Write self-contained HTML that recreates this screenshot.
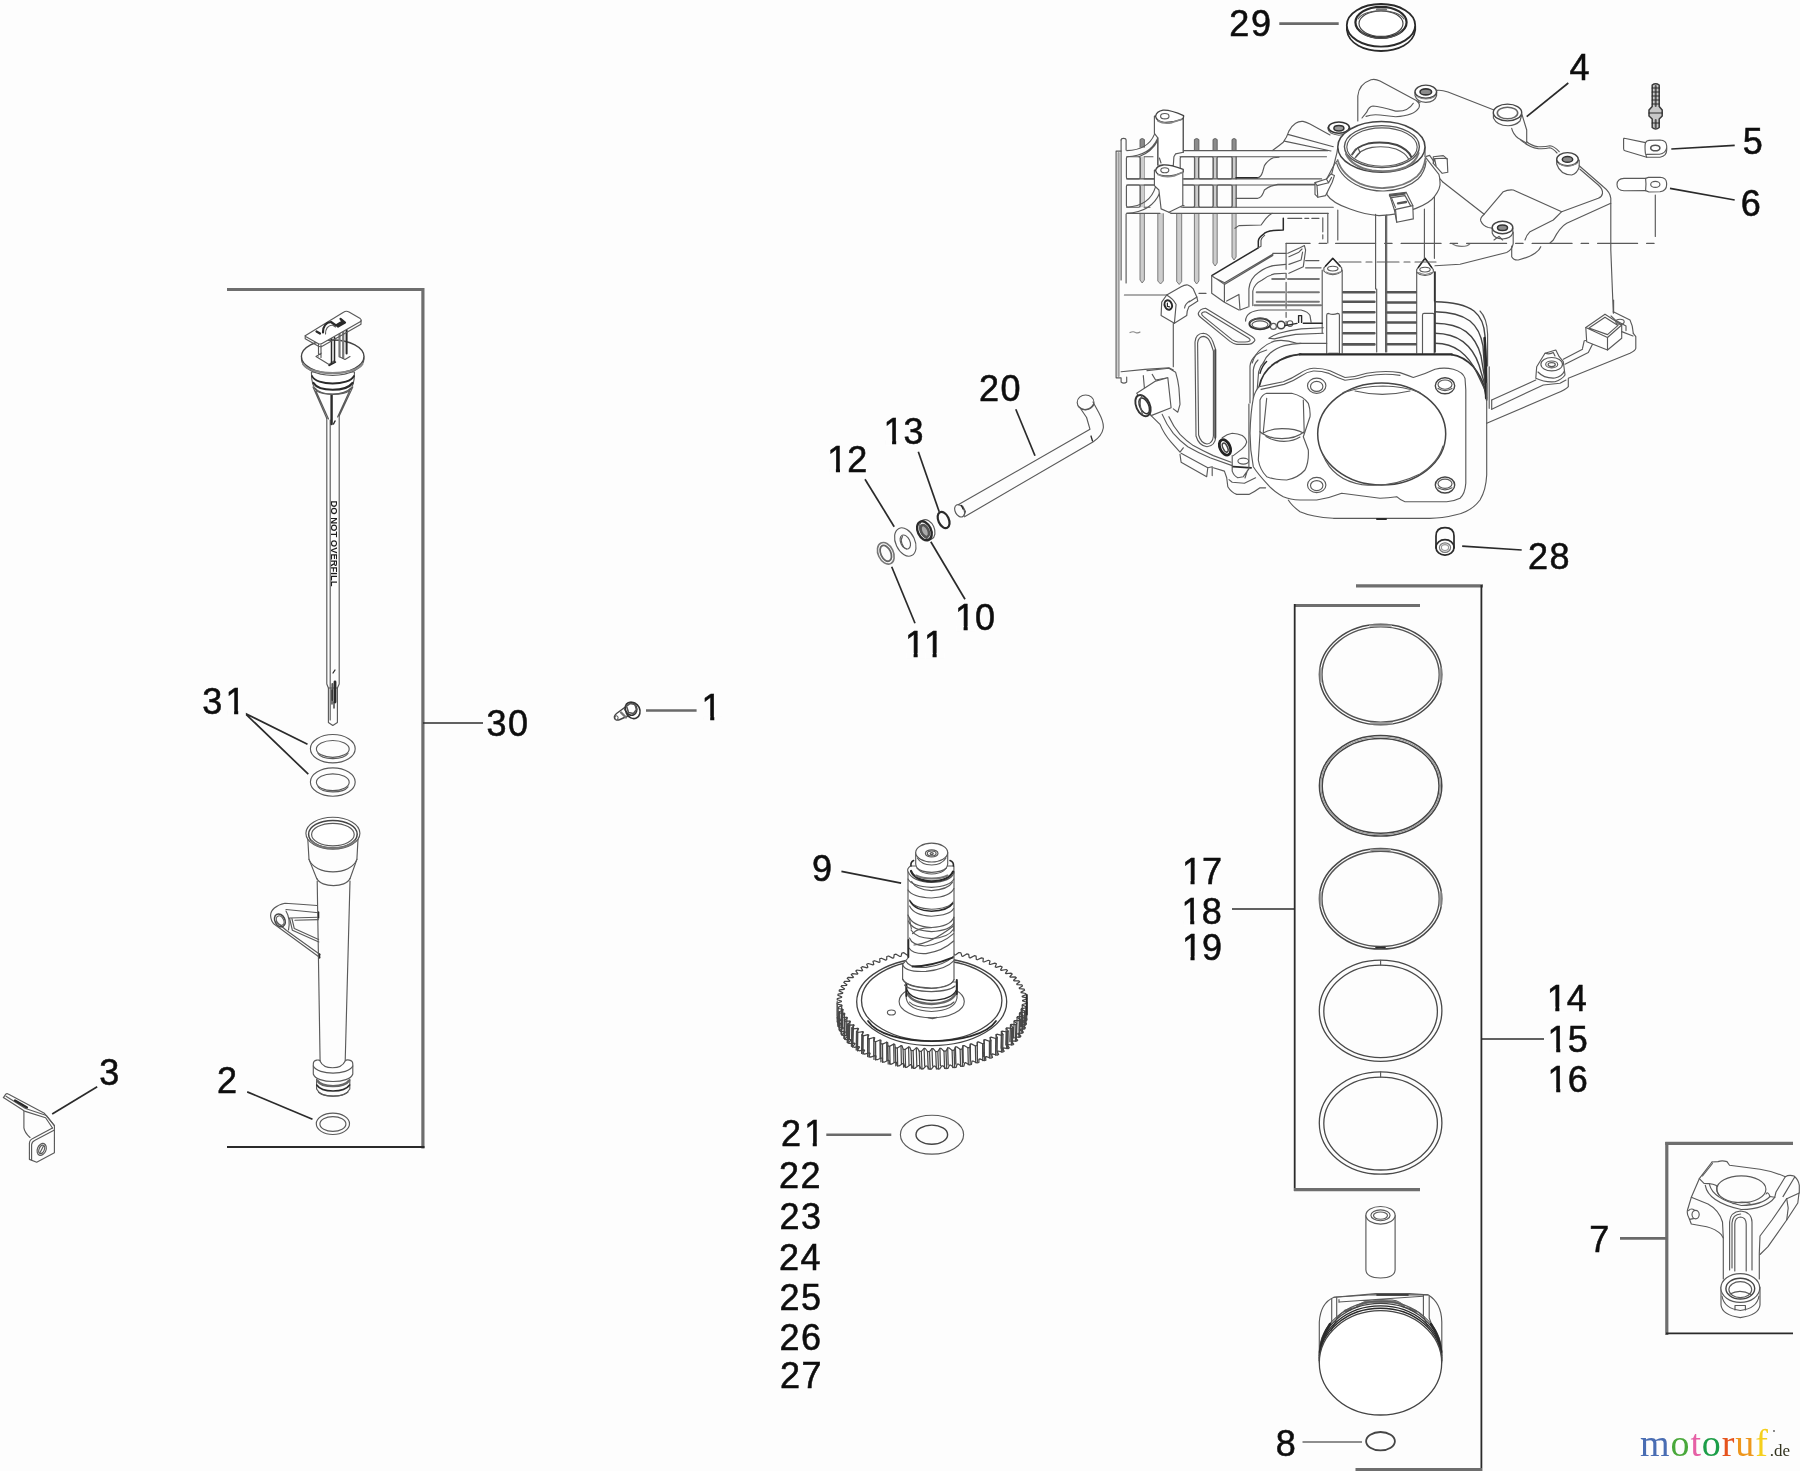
<!DOCTYPE html>
<html><head><meta charset="utf-8"><title>Crankcase assembly parts diagram</title>
<style>
html,body{margin:0;padding:0;background:#fff}
svg{display:block}
.p{fill:none;stroke:#5a5a5a;stroke-width:1.15;stroke-linecap:round;stroke-linejoin:round}
.pf{fill:#fff;stroke:#5a5a5a;stroke-width:1.15;stroke-linecap:round;stroke-linejoin:round}
.d{fill:none;stroke:#2a2a2a;stroke-width:1.8;stroke-linecap:round;stroke-linejoin:round}
.l{fill:none;stroke:#2b2b2b;stroke-width:1.7}
.lg{fill:none;stroke:#6a6a6a;stroke-width:2.6}
.b{fill:none;stroke:#2b2b2b;stroke-width:1.8}
.bg{fill:none;stroke:#6e6e6e;stroke-width:3.2}
.n{font-family:"Liberation Sans",Arial,sans-serif;font-size:36px;fill:#0c0c0c;stroke:#0c0c0c;stroke-width:0.55px}
</style></head><body>
<svg width="1800" height="1471" viewBox="0 0 1800 1471">
<rect width="1800" height="1471" fill="#fdfdfd"/>
<defs><filter id="soft" x="0" y="0" width="1800" height="1471" filterUnits="userSpaceOnUse"><feGaussianBlur stdDeviation="0.45"/></filter></defs>
<g filter="url(#soft)">
<g id="brackets">
<!-- group 30 bracket -->
<path class="bg" d="M227 289.5H423"/>
<path class="bg" d="M422.9 288V1148.5"/>
<path class="b" d="M227 1147H424.5"/>
<path class="l" d="M423 723H483"/>
<!-- ring set brackets -->
<path class="bg" d="M1356 585.8H1483"/>
<path class="b" d="M1481.4 585V1471"/>
<path class="bg" d="M1355.5 1469.6H1482"/>
<path class="bg" d="M1294 605.5H1420"/>
<path class="b" d="M1294.7 604V1191"/>
<path class="bg" d="M1294 1189.7H1420"/>
<path class="l" d="M1232 909H1295"/>
<path class="l" d="M1481.5 1039H1544"/>
<!-- conrod bracket -->
<path class="bg" d="M1665.3 1143.3H1793"/>
<path class="bg" d="M1666.8 1142V1335"/>
<path class="b" d="M1666 1333.4H1793"/>
<path class="lg" d="M1620 1238.4H1667"/>
<!-- simple leaders -->
<path class="lg" d="M646 710.5H696.6"/>
<path class="lg" d="M826.3 1134.7H891.3"/>
<path class="lg" d="M1279.3 23.6H1338.7"/>
<path class="lg" style="stroke-width:1.6" d="M1302.5 1442H1362"/>
<path class="l" d="M245 713.3L307.5 744.2M245 713.3L308.3 774.2"/>
<path class="l" d="M247.2 1091.9L312.5 1119.3"/>
<path class="l" d="M52.2 1113.9L97.2 1086.7"/>
<path class="l" d="M1015.8 409.2L1035 455.8"/>
<path class="l" d="M918.3 451.7L939.2 511.7"/>
<path class="l" d="M865 479.2L894.2 526.7"/>
<path class="l" d="M930.8 541.7L965 599.2"/>
<path class="l" d="M891.7 566.7L915 623.3"/>
<path class="l" d="M841.4 871.4L901.1 883.2"/>
<path class="l" d="M1526.7 116.7L1568.3 83"/>
<path class="l" d="M1671.3 149L1734.7 145.3"/>
<path class="l" d="M1670 188.3L1734.7 200"/>
<path class="l" d="M1462.2 546.1L1521.7 550"/>
</g>
<g id="dipstick">
<!-- cone below neck -->
<path class="p" d="M313 387L326.8 418.5M316 391L328.5 419M352.8 387L339.2 416M349.5 391L337.6 417"/>
<!-- stick -->
<path class="p" d="M326.8 418V684L328.4 688V722.5L332.8 725.5L337.4 722.5V688L339.2 684V416"/>
<path class="p" d="M330.2 420V720M328.4 688H337.4"/>
<path class="d" style="stroke-width:2.4" d="M331.6 394V424"/>
<path class="d" style="stroke-width:1.4" d="M333.5 424L335 421"/>
<text transform="translate(331.2 500.5) rotate(90)" textLength="86" lengthAdjust="spacingAndGlyphs" style="font-family:'Liberation Sans',Arial,sans-serif;font-weight:bold;font-size:8.2px;fill:#1a1a1a">DO NOT OVERFILL</text>
<!-- end markings -->
<path class="d" style="stroke-width:2.8" d="M335 682V702"/><path class="p" style="stroke:#555;stroke-width:2" d="M332.4 684V700"/>
<path class="d" style="stroke-width:1.3" d="M333 673L335 670M332 690V704M334 702V708"/>
<!-- neck (ribbed) -->
<path class="pf" d="M311.4 372C311.4 381 313 388 317 391C323 395.5 343 395.5 349 391C353 388 354.5 381 354.5 372Z"/>
<path class="d" d="M312 376C316 386 349 386 354 376"/>
<path class="d" style="stroke-width:2.2" d="M313.5 383C319 392 346 392 352.5 383"/>
<path class="p" d="M315 388C321 396 344 396 351 388"/>
<!-- flange -->
<ellipse class="pf" cx="332.7" cy="358.8" rx="31.3" ry="16.6"/>
<ellipse class="pf" style="stroke:#444;stroke-width:1.4" cx="332.7" cy="356.6" rx="31.3" ry="16.6"/>
<path class="p" style="stroke:#888;stroke-width:2" d="M303 364C310 376 355 376 362.5 364"/>
<!-- legs of handle -->
<path class="p" d="M318.5 343.5V356M321 345V357.5M316 356.5L329 364.5L334 361M316 356.5L321.5 353"/>
<path class="d" style="stroke-width:1.5" d="M331.5 338V364M334.5 337V362.5M329 365.5L335.5 362"/>
<path class="p" style="stroke:#777;stroke-width:2.2" d="M339.5 333V356.5M343.2 331.5V358"/>
<path class="d" style="stroke-width:2" d="M346.6 330V353.5"/>
<path class="p" d="M340 357L345 359.5L350 356.5"/>
<!-- handle plate -->
<path class="pf" d="M305.2 335.8L343.5 312.2Q346.2 310.4 349 312L360.2 318.6Q362 320 360.6 321.6L322 343.5Q320 344.6 318 343.4L305.6 336.5Z"/>
<path class="p" d="M305.2 335.8V338.8L318.5 346.3Q320.3 347.2 322.2 346.2L361 324.3V320.5"/>
<path class="d" style="stroke-width:2.2" d="M316.5 331.5L320 333.5M323 332.5C323 326 326 322.5 331 322L336 325.5M336 325.5L342.5 321.5L340.5 318.8L345 322.6L338 326.5"/>
<path class="p" d="M325.5 334C325.5 328.5 328 325.5 332.5 325L335.5 327"/>
</g>
<g id="tube">
<!-- O-rings 31 -->
<ellipse class="p" cx="332.8" cy="748.7" rx="22.4" ry="14.2"/>
<ellipse class="p" cx="332.8" cy="748.9" rx="16.4" ry="8.4"/>
<path class="p" d="M318 753.5C322 760 343 760.5 348 753.5"/>
<ellipse class="p" cx="332.8" cy="782" rx="22.4" ry="14.2"/>
<ellipse class="p" cx="332.8" cy="782.2" rx="16.4" ry="8.4"/>
<path class="p" d="M318 786.8C322 793.3 343 793.8 348 786.8"/>
<!-- tube cup -->
<path class="p" d="M307.6 835.5L309 859.4L316.9 879M358.2 835.5L356.9 859.4L349.9 879"/>
<path class="p" d="M309 859.4C315 876 351 876 356.9 859.4"/>
<path class="p" d="M316.9 878.5C321 888 346 888 349.9 878.5"/>
<ellipse class="pf" cx="332.9" cy="833.2" rx="27" ry="16"/>
<ellipse class="p" style="stroke:#444;stroke-width:1.5" cx="332.9" cy="834.2" rx="24.3" ry="13.8"/>
<ellipse class="p" cx="332.9" cy="834.6" rx="21.3" ry="11.3"/>
<path class="p" style="stroke:#777;stroke-width:2" d="M312 841C318 850.5 347 850.5 354 841"/>
<!-- tube body -->
<path class="p" d="M317.2 881L320.1 1061M350 881L345.2 1061"/>
<!-- ear -->
<path class="p" d="M317 905.5L300 904.2L285 903.2C276 905 270.5 910 270.6 915.5C270.8 920 272.5 922.5 274 924L319.8 957.5"/>
<path class="p" d="M286 909.5L318.6 912.8M276 921.5L286.5 930.5L320 954.5"/>
<path class="p" d="M289.5 918L318.3 917.2M289.5 918L292.4 930.3L318.8 942M291.8 918L294.3 928.6L318.6 939.5M295 920.3L318.4 919.6"/>
<path class="p" d="M286 911C289 916 290 922 288.5 930"/>
<ellipse class="p" style="stroke:#444;stroke-width:1.5" cx="279.9" cy="920.4" rx="5" ry="6.8" transform="rotate(-28 279.9 920.4)"/>
<ellipse class="p" cx="280.2" cy="920.6" rx="3.4" ry="5" transform="rotate(-28 280.2 920.6)"/>
<path class="d" style="stroke-width:1.4" d="M318.6 912V918M319.6 954V958"/>
<!-- lower collar -->
<path class="pf" d="M313.3 1064C313.3 1059 320 1059.5 320 1061C324 1070 341 1070 345.2 1061C346 1059.5 352.8 1059 352.8 1064V1074C350 1084 316 1084 313.3 1074Z"/>
<path class="p" d="M313.3 1066C318 1075.5 348 1075.5 352.8 1066"/>
<path class="p" d="M316.6 1079V1089C321 1098.5 345 1098.5 349.8 1089V1079"/>
<path class="p" style="stroke:#666;stroke-width:2.4" d="M317.2 1080.5C322 1088 344 1088 349.2 1080.5"/>
<path class="d" style="stroke-width:1.6" d="M316.8 1085C322 1093 344 1093 349.6 1085"/>
<path class="p" d="M318.5 1092C324 1097.5 342 1097.5 348 1092"/>
<!-- O-ring 2 -->
<ellipse class="p" cx="332.9" cy="1123.8" rx="16.6" ry="10.7"/>
<ellipse class="p" cx="332.9" cy="1124" rx="13" ry="7.4"/>
</g>
<g id="clip">
<path class="p" d="M3.4 1097.6L5.8 1094.2Q6.8 1093.2 8.2 1094L44.4 1113.3L54.4 1125.6V1152.8L36.7 1162.2L29.4 1159.4V1143.3Q29.6 1139.8 33.3 1138.3L52.5 1128"/>
<path class="p" d="M3.4 1097.6L24.4 1111.1L45.6 1117.8L52.5 1128"/>
<path class="p" d="M6 1096.2L25.5 1108.5L46.5 1115.5L54.4 1125.6"/>
<path class="p" d="M31.6 1160V1144.8Q31.8 1141.6 35 1140.2L54 1130.2"/>
<path class="p" d="M23.9 1111.2V1127.8Q24.6 1132.5 30 1137.5"/>
<path class="d" style="stroke-width:2.2" d="M15 1100.5L27 1107.5"/>
<ellipse class="p" cx="41.7" cy="1149.4" rx="4.3" ry="6.2" transform="rotate(22 41.7 1149.4)"/>
<ellipse class="p" cx="41.7" cy="1149.4" rx="2.6" ry="4.4" transform="rotate(22 41.7 1149.4)"/>
<path class="p" d="M39.8 1153L43.6 1145.8"/>
</g>
<g id="screw">
<path class="pf" style="stroke:#444;stroke-width:1.4" d="M626 706.5L616.5 713.5Q613.2 716.5 615 719Q616.5 721 620 719.5L631 714.5Z"/>
<path class="p" style="stroke:#777;stroke-width:2.4" d="M621 712.5L626 717.5M625 709.5L630 714.5"/>
<ellipse class="pf" style="stroke:#333;stroke-width:1.6" cx="632.8" cy="710.4" rx="7" ry="8.4" transform="rotate(-25 632.8 710.4)"/>
<ellipse class="pf" style="stroke:#333;stroke-width:1.6" cx="631" cy="708.8" rx="5.6" ry="6.6" transform="rotate(-25 631 708.8)"/>
<path class="p" style="stroke:#555;stroke-width:1.6" d="M626.5 706L630 703.5L635 704.5L636.5 709.5L633.5 713.5L628.5 712.5Z"/>
<ellipse cx="616.5" cy="717.8" rx="1.6" ry="2" fill="#fff" stroke="#444" stroke-width="1"/>
</g>
<g id="linkage">
<!-- rod 20 -->
<path class="p" d="M958.6 504.6L1090 429.3L1086.6 417.5L1080.5 408.5M964.5 516.8L1093.3 441.7Q1102 436 1103.3 428Q1103.8 422 1099 413L1093 402"/>
<ellipse class="p" cx="1085.6" cy="402.4" rx="8.4" ry="7.4"/>
<path class="p" d="M1079 407C1083 411 1090 410.5 1093.5 404"/>
<ellipse class="p" cx="959.6" cy="510.8" rx="4.4" ry="6.6" transform="rotate(-28 959.6 510.8)"/>
<path class="p" d="M962.6 506L965.5 511.5L964 515.5"/>
<path class="d" style="stroke-width:1.3" d="M1091 436L1092.5 441M961.5 505.5L963 509"/>
<!-- o-ring 13 -->
<ellipse class="d" style="stroke-width:2.2" cx="943.6" cy="520" rx="5.2" ry="8.6" transform="rotate(-25 943.6 520)"/>
<!-- seal 10 -->
<ellipse class="pf" cx="927.3" cy="529.5" rx="7" ry="10.4" transform="rotate(-25 927.3 529.5)"/>
<ellipse class="d" style="stroke-width:2.4" cx="924.4" cy="530.8" rx="6.6" ry="10" transform="rotate(-25 924.4 530.8)"/>
<ellipse class="p" style="stroke:#555;stroke-width:2.6;fill:#aaa" cx="924.8" cy="531" rx="3.6" ry="6.4" transform="rotate(-25 924.8 531)"/>
<!-- washer 12 -->
<ellipse class="p" cx="905.3" cy="542" rx="9.6" ry="15" transform="rotate(-25 905.3 542)"/>
<ellipse class="p" cx="905.3" cy="542" rx="4.6" ry="7.4" transform="rotate(-25 905.3 542)"/>
<path class="p" d="M902.5 536.5C900 540 902 547 906.5 549"/>
<!-- clip 11 -->
<ellipse class="p" style="stroke:#777;stroke-width:1.6" cx="885.8" cy="553.3" rx="7.6" ry="11.4" transform="rotate(-25 885.8 553.3)"/>
<ellipse class="p" style="stroke:#666;stroke-width:1.8" cx="885.8" cy="553.3" rx="5" ry="8.4" transform="rotate(-25 885.8 553.3)"/>
</g>
<g id="crankcase">
<path class="p" d="M1116.1 151.1V377.8H1121.1V382Q1123.8 384.2 1126.7 382V377M1116.1 151.1H1121.1M1121.1 140Q1121.2 138.3 1123.6 138.3Q1126 138.3 1126.1 140V150"/>
<path class="p" d="M1121.1 140V280M1126.1 214V283"/>
<path class="p" style="stroke:#a0a0a0;stroke-width:2.2" d="M1118.6 153V376"/>
<path d="M1140 147.6V139.5Q1142.2 137.5 1144.4 139.5V147.6" fill="#8c8c8c" stroke="#5a5a5a" stroke-width="0.9"/>
<path d="M1194.4 150.6V139.5Q1196.65 137.5 1198.9 139.5V150.6" fill="#8c8c8c" stroke="#5a5a5a" stroke-width="0.9"/>
<path d="M1213 150.6V139.5Q1215.1 137.5 1217.2 139.5V150.6" fill="#8c8c8c" stroke="#5a5a5a" stroke-width="0.9"/>
<path d="M1232 150.6V139.5Q1234.05 137.5 1236.1 139.5V150.6" fill="#8c8c8c" stroke="#5a5a5a" stroke-width="0.9"/>
<path d="M1140 213.3V280L1142.2 283L1144.4 280V213.3" fill="#cdcdcd" stroke="#707070" stroke-width="0.9"/>
<path d="M1157.8 213.3V281L1160.55 284L1163.3 281V213.3" fill="#cdcdcd" stroke="#707070" stroke-width="0.9"/>
<path d="M1176.7 213.3V281.5L1179.2 284.5L1181.7 281.5V213.3" fill="#cdcdcd" stroke="#707070" stroke-width="0.9"/>
<path d="M1194.4 213.3V281L1196.65 284L1198.9 281V213.3" fill="#cdcdcd" stroke="#707070" stroke-width="0.9"/>
<path d="M1213 213.3V263L1215.1 266L1217.2 263V213.3" fill="#cdcdcd" stroke="#707070" stroke-width="0.9"/>
<path d="M1232 213.3V257L1234.05 260L1236.1 257V213.3" fill="#cdcdcd" stroke="#707070" stroke-width="0.9"/>
<path d="M1140 156.7V178.9M1144.4 156.7V178.9" fill="none" stroke="#707070" stroke-width="0.9"/><rect x="1140" y="156.7" width="4.4" height="22.2" fill="#cdcdcd"/>
<path d="M1140 185V207.2M1144.4 185V207.2" fill="none" stroke="#707070" stroke-width="0.9"/><rect x="1140" y="185" width="4.4" height="22.2" fill="#cdcdcd"/>
<path d="M1194.4 156.7V178.9M1198.9 156.7V178.9" fill="none" stroke="#707070" stroke-width="0.9"/><rect x="1194.4" y="156.7" width="4.5" height="22.2" fill="#cdcdcd"/>
<path d="M1194.4 185V207.2M1198.9 185V207.2" fill="none" stroke="#707070" stroke-width="0.9"/><rect x="1194.4" y="185" width="4.5" height="22.2" fill="#cdcdcd"/>
<path d="M1213 156.7V178.9M1217.2 156.7V178.9" fill="none" stroke="#707070" stroke-width="0.9"/><rect x="1213" y="156.7" width="4.2" height="22.2" fill="#cdcdcd"/>
<path d="M1213 185V207.2M1217.2 185V207.2" fill="none" stroke="#707070" stroke-width="0.9"/><rect x="1213" y="185" width="4.2" height="22.2" fill="#cdcdcd"/>
<path d="M1232 156.7V178.9M1236.1 156.7V178.9" fill="none" stroke="#707070" stroke-width="0.9"/><rect x="1232" y="156.7" width="4.1" height="22.2" fill="#cdcdcd"/>
<path d="M1232 185V207.2M1236.1 185V207.2" fill="none" stroke="#707070" stroke-width="0.9"/><rect x="1232" y="185" width="4.1" height="22.2" fill="#cdcdcd"/>
<path class="p" d="M1183.9 150.6H1328M1180 156.7H1326.5M1126.7 178.9H1154M1184 178.9H1321.6M1126.7 185H1154M1183.4 185H1316.6M1183.4 207.2H1333.3M1171 213.3H1328.3M1126.7 213.3H1160"/>
<rect class="p" x="1126.4" y="156.7" width="13.9" height="22.2" rx="1.6"/>
<rect class="p" x="1126.4" y="185" width="13.9" height="22.2" rx="1.6"/>
<rect class="p" x="1180.2" y="156.7" width="14.5" height="22.2" rx="1.6"/>
<rect class="p" x="1180.2" y="185" width="14.5" height="22.2" rx="1.6"/>
<rect class="p" x="1198.6" y="156.7" width="14.7" height="22.2" rx="1.6"/>
<rect class="p" x="1198.6" y="185" width="14.7" height="22.2" rx="1.6"/>
<rect class="p" x="1216.9" y="156.7" width="15.4" height="22.2" rx="1.6"/>
<rect class="p" x="1216.9" y="185" width="15.4" height="22.2" rx="1.6"/>
<path class="p" d="M1144.2 156.7H1153M1144.2 178.9H1154M1144.2 185H1154M1144.2 207.2H1150M1236.1 156.7V178.9M1236.1 185V207.2"/>
<path class="p" d="M1126.7 150.6Q1148 150 1154.4 134.4M1126.7 156.7Q1150 156 1157.8 138M1138.9 156.7Q1152 152 1157.4 141M1126.7 207.2Q1150 206 1155.6 186.7M1126.7 213.3Q1152 212 1160 192.2"/>
<path class="pf" d="M1154.4 116V133.3L1157.8 137.8V165L1173.3 165.6L1173.9 156.7L1175.6 153.9L1183.3 152.2V117Z"/>
<path class="p" d="M1183.3 152.2V117M1157.8 137.8V165M1159.4 158L1161 163"/>
<path class="pf" style="stroke:#444;stroke-width:1.3" d="M1155.6 116.4Q1156.4 111.4 1163 110.2Q1170 109.6 1183.6 115.6Q1184 118.6 1181 119.6Q1172 122.8 1164 122.4Q1156.4 121.4 1155.6 116.4Z"/>
<ellipse class="p" cx="1164.8" cy="116.2" rx="4.2" ry="2.7"/>
<path class="p" style="stroke:#888;stroke-width:1.6" d="M1158 121Q1164 124.4 1172 122.6L1181 119.6"/>
<path class="pf" d="M1154.4 170V185.6L1158.9 190L1161.1 208.9L1168.9 212.2L1182.8 205.6V171Z"/>
<path class="p" d="M1168.9 212.2L1171 213.3M1182.8 205.6H1184"/>
<path class="pf" style="stroke:#444;stroke-width:1.3" d="M1155.6 170.6Q1156.4 166 1163 165Q1170 164.6 1183.2 169.4V172Q1175 176 1165 176Q1156.6 175.4 1155.6 170.6Z"/>
<ellipse class="p" cx="1164.8" cy="170.2" rx="4" ry="2.5"/>
<path class="p" style="stroke:#888;stroke-width:1.6" d="M1158 174.6Q1165 178 1174 176L1182 172.6"/>
<path class="p" style="stroke:#888" d="M1130 332.6Q1133 331 1135.4 332.4Q1138 333.6 1140 332"/>
<path class="p" d="M1121.1 371.7L1145 369.4L1168.9 367.8L1173.3 370M1173.3 323.3V366.7"/>
<!-- webs left of bearing -->
<path class="p" d="M1272.2 150.6Q1280 145 1283.3 142.2Q1287 137 1288.9 131.1Q1292 125.6 1295.6 123.3Q1299 121 1303 121.4Q1306 122 1310 124L1330 135M1287.8 134.4L1333.3 146.7M1284.4 141.1L1331 151"/>
<path class="d" style="stroke-width:1.6" d="M1236.1 177.8H1257.8"/>
<path class="p" d="M1257.8 177.8Q1261 177 1262.6 172Q1264 167 1264.4 165.6Q1268 160 1273.3 157.8L1279 157.2M1236.1 198.3H1257.8Q1261 198 1263 193.6Q1264 191 1264.4 190Q1268 187 1271.1 186.1L1277.8 184.4H1316M1235 228.3L1238.9 225.6L1261.1 225L1265.6 218.9Q1268 215.6 1272.2 213.3"/>
<!-- small boss left of bearing -->
<path class="pf" d="M1328 129Q1328.6 134 1339 135.2Q1349.4 134 1349.8 129V127.4H1328Z"/>
<ellipse class="pf" style="stroke:#333;stroke-width:1.6" cx="1338.9" cy="127.6" rx="10.4" ry="5.6"/>
<ellipse class="p" style="stroke:#333;stroke-width:1.5;fill:#9a9a9a" cx="1338.9" cy="128.2" rx="5" ry="2.7"/>
<!-- upper flange -->
<path class="p" d="M1357.8 121V96Q1359 84 1371 79.8Q1375 78.6 1380 81L1420 102.6"/>
<path class="p" d="M1362 118L1366.7 112.2Q1369 106.4 1373 106Q1380 106.6 1395.6 111.1Q1408 112 1413.3 103.3"/>
<path class="p" d="M1366 116.4Q1372 114 1380 115L1395.6 116.7Q1414 116 1418.9 107.8Q1420.6 103.6 1417 101.4"/>
<!-- boss 1 -->
<path class="pf" d="M1415 92V95.6Q1417 102 1425.8 102.4Q1435 102 1436.6 95.6V92Z"/>
<ellipse class="pf" style="stroke:#444;stroke-width:1.4" cx="1425.8" cy="91.7" rx="10.8" ry="6.6"/>
<ellipse class="p" style="stroke:#333;stroke-width:1.6;fill:#8c8c8c" cx="1425.8" cy="91.9" rx="5.8" ry="3"/>
<path class="p" style="stroke:#888" d="M1417 96.4Q1426 101.6 1435 96.4"/>
<!-- cover outline to boss 2 -->
<path class="p" d="M1436.6 90.4Q1441 89.6 1448 92L1494 110"/>
<path class="pf" d="M1493.4 113V118Q1497 125.6 1508 125.8Q1516 125.4 1520 121L1521.7 115Z"/>
<ellipse class="pf" style="stroke:#444;stroke-width:1.4" cx="1507.5" cy="112.5" rx="14.2" ry="8.4"/>
<ellipse class="p" style="stroke:#666;stroke-width:1.6" cx="1507.5" cy="113" rx="10.2" ry="5.8"/>
<path class="p" d="M1521.7 113.6L1526.7 130V141.7M1511.7 128.3Q1513 134 1518.3 138.3L1526.7 143.3"/>
<path class="p" d="M1526.7 141.7Q1531 145.6 1538.3 146.7Q1545 147 1550 145.8Q1554 146 1559.2 151.7M1521 140.4Q1530 147.6 1538.3 148.6Q1545 149 1549.6 147.8Q1553 148.4 1557 153"/>
<!-- boss 3 -->
<path class="pf" d="M1556.7 160V164Q1560 174.6 1571.7 175Q1577 173.6 1579.2 167V160Z"/>
<ellipse class="pf" style="stroke:#444;stroke-width:1.4" cx="1567.5" cy="159.2" rx="10.8" ry="6.6"/>
<ellipse class="p" style="stroke:#333;stroke-width:1.5;fill:#8c8c8c" cx="1567.5" cy="159.4" rx="5.2" ry="2.9"/>
<path class="p" style="stroke:#888" d="M1558.6 163.6Q1567 169 1577 163.6"/>
<!-- right edge of cover -->
<path class="p" d="M1579.2 165.8L1603.3 186.7Q1610.2 192 1610.8 198.3V250L1613.3 313"/>
<path class="p" d="M1580 169.2L1598.3 185Q1603 189.4 1602.5 193.3Q1602 196.6 1598.3 198.3L1561.7 211.7"/>
<path class="p" d="M1610.8 203.3L1566.7 223.3Q1560 227 1553.3 240L1550 243"/>
<!-- raised panel -->
<path class="p" d="M1442.5 181.7L1484.2 214.2L1503.3 191.7Q1508 189.4 1513.3 190L1561.7 211.7L1553.3 220L1530 231.7Q1526.6 235 1525 240"/>
<path class="p" d="M1484.2 214.2Q1479.6 218 1480.8 221Q1483 226 1488.3 227.5L1492.6 228.2"/>
<!-- boss 4 -->
<path class="pf" d="M1492.2 228V233Q1494 238.6 1502.5 239Q1511 238.6 1512.8 233V228Z"/>
<ellipse class="pf" style="stroke:#444;stroke-width:1.4" cx="1502.5" cy="227.5" rx="10.3" ry="6.3"/>
<ellipse class="p" style="stroke:#333;stroke-width:1.5;fill:#8c8c8c" cx="1502.5" cy="227.7" rx="5" ry="2.8"/>
<path class="p" d="M1494 240L1499 236.4L1502.6 240M1513.2 232V243.6Q1512 250 1506.7 252.5L1460 264.2L1435 265.8"/>
<path class="p" d="M1511.7 246V256.7Q1513.6 260.4 1518.3 260Q1530 257 1535 253.3Q1539.6 250 1540.8 246.7"/>
<path class="p" style="stroke:#777" d="M1452 243.6Q1456 246.6 1462 246.4Q1468 246.4 1470 243.6"/>
<!-- bearing boss skirt -->
<path class="pf" d="M1337.8 147Q1337 154 1335.6 158L1326.7 194.4Q1332 203 1350 209Q1365 214.6 1379 215.6Q1400 215 1416 208.4Q1430 203 1434.4 196.7Q1441 188 1440 182.2Q1440 178 1438.9 174.4L1425 156.7V147Z"/>
<path class="p" d="M1336.7 163.3Q1341 178 1360 186.6Q1372 191.4 1384 191Q1406 190 1418 179Q1425 172 1426.1 161.1"/>
<path class="p" style="stroke:#777;stroke-width:1.8" d="M1337.6 160Q1342 175 1360 183.6Q1372 188.4 1384 188Q1405 187 1417 176.4Q1424 169.6 1425.4 158.4"/>
<!-- top ring -->
<ellipse class="pf" style="stroke:#444;stroke-width:1.5" cx="1381.4" cy="146.9" rx="43.6" ry="25.3"/>
<ellipse class="p" style="stroke:#555;stroke-width:1.4" cx="1381.9" cy="146.6" rx="37.5" ry="21"/>
<ellipse class="p" cx="1382" cy="147" rx="35.2" ry="19.2"/>
<path class="p" style="stroke:#777;stroke-width:2" d="M1346 154Q1352 166.8 1372 170.6Q1392 173 1406 167Q1416 162 1418.6 153"/>
<!-- inner seat -->
<path class="p" style="stroke:#444;stroke-width:2" d="M1352.2 154.4Q1356 146.6 1368 143.6Q1383 141 1397 145Q1408 149.4 1411.1 156.7"/>
<path class="p" d="M1355 158Q1360 149.6 1372 147.4Q1385 145.6 1396 149Q1405 152.6 1408.4 158.6"/>
<path class="p" d="M1352.2 154.4L1355.6 149L1358.2 148.2L1360 152.4L1356 157"/>
<!-- left lug -->
<path class="pf" d="M1315 182.6L1326.4 179L1331 173.9L1334.4 175.6L1332.2 182.2L1325.6 195.6L1317.8 197.2L1315 194.4Z"/>
<path class="p" d="M1326.4 179L1328.6 182.8L1331.6 177.4M1315 182.6L1317 185.6L1317.8 197.2M1317 185.6L1328.6 182.8M1326.7 178.9L1334 165L1337 161"/>
<!-- right lug -->
<path class="pf" d="M1433.3 156.7L1443.3 155.6L1447.2 158.9L1447.8 172.2L1442.2 173.3L1433.3 163.3Z"/>
<path class="p" d="M1433.3 163.3L1434.6 158.6L1444.6 158.2L1447.2 158.9M1434.6 158.6L1436 165.6M1426.4 156.4L1429.6 155.4L1433.3 160.6"/>
<!-- front lug -->
<path class="pf" d="M1389.4 194.4L1406.1 192.2L1412.8 205.6L1413.3 218.9L1396.7 222.2L1394.4 210Z"/>
<path class="p" d="M1394.6 209.6L1412.8 205.6M1391.4 197.6L1405 195.6L1410.4 205.4M1391.4 197.6L1395.4 207.4M1396.7 222.2L1395.6 210.4"/>
<path class="p" style="stroke:#555;stroke-width:2.4" d="M1398 203.4L1406 202M1390 195.6L1404.6 193.6"/>
<!-- line from right lug to panel -->
<path class="p" d="M1440 178.9L1442.5 181.7"/>
<!-- verticals near bearing -->
<path class="p" d="M1327.8 213.3V243M1337.8 210V240M1375.6 214.4V289M1385.6 215.6V352M1376.7 289V352"/>
<path class="p" style="stroke-dasharray:14 3 4 3" d="M1322.8 217.8V240M1287.8 218.3H1319"/>
<!-- step shape (dark) -->
<path class="d" style="stroke-width:1.5" d="M1283.3 218.3V230L1273.3 230.6Q1266 231.4 1263.3 234.4Q1258.6 237.6 1258.3 241.1V247.8L1211.7 275.6"/>
<path class="p" d="M1261 240.4V246.2L1258.3 247.8M1261 240.4Q1261.6 237.6 1264.6 235.4"/>
<!-- ledge block -->
<path class="p" d="M1211.7 275.6L1224.4 284.4L1272.8 255.6V253.3H1286.1M1211.7 275.6V293.3L1224.4 302.2L1238.9 310M1224.4 284.4V302.2M1214 277.6L1224.6 282.8L1272.2 254.6"/>
<path class="p" d="M1226.7 301.1L1238.9 294.4L1240 310L1248 307"/>
<!-- curved channel -->
<path class="p" d="M1248.9 306.7V288.9Q1250 278 1258.9 272.2Q1266 267 1273.3 265.6L1285.6 264.4"/>
<path class="p" d="M1252.8 305.6V291Q1254 284 1262.2 280Q1268 275.6 1274.4 273.9L1285.6 273.3"/>
<!-- hook -->
<path class="p" d="M1287.8 253.3L1300 247.8L1304.4 245.6L1305.6 250L1303.3 266.7L1288.9 273.3M1288.9 256.7L1298.9 252.2L1302 249M1288.9 264.4L1301.1 260L1302.6 252"/>
<!-- phantom box -->
<path class="p" style="stroke-dasharray:26 4 5 4" d="M1286.1 243.3V324.4"/>
<!-- horizontal fins left of stud -->
<path class="p" style="stroke:#777;stroke-width:2" d="M1272.2 278.9H1284.6M1288 278.9H1318.9M1256.7 292.2H1284.6M1288 292.2H1318.9M1256.7 301.7H1284.6M1288 301.7H1318.9M1254.4 305.2H1321"/>
<path class="p" d="M1305.6 260.6H1318.9M1305.6 267.8H1321.1"/>
<!-- stud 1 -->
<path class="pf" d="M1323.9 267.8L1332.8 258.3L1341.7 267.8V271Q1339 274.4 1332.8 274.6Q1326.6 274.4 1323.9 271Z"/>
<path class="d" style="stroke-width:1.5" d="M1325.6 266L1332.8 258.3L1340 266"/>
<ellipse class="p" cx="1332.8" cy="268.6" rx="5.2" ry="2.4"/>
<path class="p" style="stroke:#888" d="M1326 272Q1332.8 275.6 1340 272"/>
<path class="p" d="M1322.2 270V333.3M1342.2 270V353M1326.7 353.3V315Q1326.8 313.4 1328.6 313.4Q1333 315.4 1337.6 313.4Q1339.4 313.4 1339.4 315V353.3"/>
<path class="p" style="stroke:#999;stroke-width:2" d="M1329 353.4H1338"/>
<!-- stud 2 -->
<path class="pf" d="M1416.7 269.6L1425 258.3L1433.3 269.6V272Q1431 275.2 1425 275.4Q1419 275.2 1416.7 272Z"/>
<path class="d" style="stroke-width:1.5" d="M1418.4 267.4L1425 258.3L1431.6 267.4"/>
<ellipse class="p" cx="1425" cy="269.6" rx="5.2" ry="2.4"/>
<path class="p" style="stroke:#888" d="M1418.6 272.6Q1425 276.4 1431.6 272.6"/>
<path class="p" d="M1416.7 272V353M1434.4 272V301M1422.5 353.3V315Q1422.6 313.4 1424 313.4H1433Q1434.2 313.4 1434.2 315V353.3"/>
<path class="d" style="stroke-width:1.6" d="M1435 272V352"/>
<!-- column lines -->
<path class="p" d="M1424.4 209V258.3M1434.4 197V258.3M1386.7 215V352"/>
<!-- cylinder fins between studs (thick) -->
<path class="p" style="stroke:#555;stroke-width:2.6" d="M1343.4 292.2H1374.4M1343.4 301.7H1374.4M1343.4 312.2H1374.4M1343.4 322.2H1374.4M1343.4 333.3H1374.4M1343.4 344.4H1374.4M1387.5 292.2H1415.8M1387.5 302.5H1415.8M1387.5 312.5H1415.8M1387.5 322.5H1415.8M1387.5 333.3H1415.8M1387.5 344.2H1415.8"/>
<!-- ports -->
<path class="p" d="M1245.6 321.1Q1245.6 316 1250 313Q1254 310.4 1262 310H1301Q1308 311.6 1310 315.6L1311.1 322.2"/>
<ellipse class="p" style="stroke:#333;stroke-width:1.9" cx="1260" cy="323.9" rx="10.6" ry="5.4"/>
<ellipse class="p" cx="1260" cy="324.6" rx="8" ry="3.8"/>
<path class="p" d="M1250 322Q1256 316 1267 319"/>
<circle class="p" style="stroke:#444;stroke-width:1.5" cx="1281.1" cy="325" r="3.8"/><circle class="p" cx="1290" cy="323.5" r="2.8"/><circle class="p" cx="1273.4" cy="326.4" r="3"/>
<path class="d" style="stroke-width:1.4" d="M1298.6 322.4V315.6H1301.6V322.4M1303.3 323.3H1322.2M1285 325.6L1297 323.4"/>
<!-- leaf -->
<path class="p" d="M1268.9 338.3Q1273 335.4 1278.9 333.3Q1290 330 1301.1 328.9L1323.3 327.8M1268.9 338.3L1274.4 338.9Q1285 336 1295.6 334.4L1323.3 333.3"/>
<!-- diagonal slot -->
<path class="p" d="M1198.3 313.3Q1200 308.6 1205.6 308.3L1252.2 336.7Q1256 339.4 1254.4 341.1Q1252 344.4 1247.8 344.4H1236.7Q1234 344.2 1230 341.4L1201.1 317.8Q1198 315.6 1198.3 313.3Z"/>
<path class="p" d="M1201.6 313.4Q1203 311.4 1206 312L1248.6 338Q1251 339.8 1249.6 341Q1248 342 1245 342H1238Q1235 341.8 1232 339.6L1203.6 316.6Q1201.4 315 1201.6 313.4Z"/>
<!-- hex boss top-left -->
<path class="pf" d="M1166.7 295L1181.1 286.7Q1185 284.6 1187.8 285Q1191 286 1193.3 288.9L1196.7 296.7L1197.8 301.1L1188.9 306.7Q1187 310 1186.7 315.6L1174.4 323.3L1161.1 315.6L1161.7 302.2Z"/>
<path class="p" d="M1176.1 304.4L1174.4 323.3M1176.1 304.4Q1173 298.6 1166.7 295M1184.6 308Q1185 304 1189.6 301M1197 297L1189 302"/>
<ellipse class="d" style="stroke-width:2" cx="1168.3" cy="305" rx="3.6" ry="4.8" transform="rotate(-20 1168.3 305)"/>
<path class="d" style="stroke-width:1.2" d="M1167.4 303V306.4L1169.6 306.8"/>
<path class="p" d="M1124.4 295H1166.7M1199 293.4H1206"/>
<!-- left side fin arcs (cylinder fins curving down-left) -->
<path class="p" d="M1252.2 363Q1255 354 1261.1 348.9Q1267 343.6 1274.4 341.1Q1284 339 1296.7 343.3H1326.7"/>
<path class="p" d="M1263.3 363Q1265.6 357 1270 353.3Q1276 348 1284.4 345.6Q1292 343.8 1301 343.4"/>
<path class="p" d="M1276.7 363Q1282 357.6 1290 355.6L1301.1 353.9"/>
<path class="p" d="M1250 403V366Q1250.6 360 1256 355Q1261 351.6 1266.7 350"/>
<path class="p" d="M1253.3 398.3V370Q1254 364 1258 360M1257 392L1258.6 372Q1260 366 1264 362"/>
<path class="d" style="stroke-width:1.4" d="M1260 373.3Q1262 366 1266.6 361.6"/>
<!-- top of cylinder body (dark thick) -->
<path class="d" style="stroke-width:2.4" d="M1300 354.4H1451.7"/>
<path class="p" style="stroke:#333;stroke-width:1.7" d="M1259.2 386.7Q1262 372 1275 363Q1286 356 1300 354.4M1451.7 354.6Q1463 356 1473.3 366.7Q1481 376 1484.2 386.7L1486.7 400"/>
<!-- right fins converging -->
<path class="p" style="stroke:#444;stroke-width:1.4" d="M1435 301.7Q1462 302 1474 311Q1484 319 1485 336V384"/>
<path class="p" style="stroke:#444;stroke-width:1.4" d="M1435 311.7Q1458 312 1470 321Q1480 329 1483 346L1485.4 382"/>
<path class="p" style="stroke:#444;stroke-width:1.4" d="M1435 323.3Q1455 323.6 1466 331.6Q1477 340 1481 356L1485.6 384"/>
<path class="p" style="stroke:#444;stroke-width:1.4" d="M1435 333.3Q1452 333.6 1463 341.6Q1474 350 1479 365L1485.8 388"/>
<path class="p" style="stroke:#444;stroke-width:1.4" d="M1435 343.3Q1450 343.6 1460 351Q1471 359.6 1477 373L1486 392"/>
<path class="d" style="stroke-width:2.6" d="M1484.6 338Q1486.4 362 1486.2 398"/>
<path class="p" d="M1480 311Q1487 318 1487.6 334V366"/>
<!-- outer body of cylinder -->
<path class="p" d="M1486.7 383.3V475Q1486 490 1480 500Q1471 512 1455 515Q1442 518.3 1430 518.3H1333.3Q1312 517 1300 511.7Q1292 506 1288.3 500"/>
<path class="d" style="stroke-width:2" d="M1377 519H1386"/>
<!-- gasket face -->
<path class="pf" d="M1259.2 386.7L1283.3 381.7Q1292 378.6 1300 373.3Q1306 369 1313.3 368.3Q1322 368 1330 370.8Q1338 374.6 1345 377.5Q1356 377 1366.7 373.3Q1384 370 1400 372.6Q1408 375.4 1413.3 377.5Q1424 374.4 1435 369.2Q1444 367 1453.3 369.2Q1463 372 1465 378.3L1465.8 390V483.3Q1465 494 1460 498.3Q1454 501.4 1446.7 501.7H1405Q1400 500 1396.7 496.7Q1388 497.8 1380 498.3L1341.7 493.3Q1330 498 1316.7 500H1300Q1290 499.6 1283.3 496.7Q1273 491 1266.7 483.3Q1258 474 1253.3 466.7Q1250 450 1250 433.3Q1250.6 412 1253.3 398.3Q1255 391 1259.2 386.7Z"/>
<path class="p" d="M1261 389.4L1284 384.4Q1293 381.4 1301 376Q1307 371.8 1313.3 371Q1321 370.8 1329 373.4Q1337 377.4 1345 380.2Q1356 379.8 1366.7 376Q1384 372.8 1400 375.4"/>
<!-- bolt holes -->
<ellipse class="p" cx="1316.7" cy="385.8" rx="9.2" ry="7.6"/><ellipse class="p" cx="1316.7" cy="386.4" rx="6.2" ry="5"/>
<ellipse class="p" cx="1316.7" cy="485" rx="9.2" ry="7.6"/><ellipse class="p" cx="1316.7" cy="485.6" rx="6.2" ry="5"/>
<ellipse class="p" style="stroke:#444;stroke-width:1.4" cx="1445" cy="385.8" rx="9.7" ry="8"/><ellipse class="p" cx="1445" cy="384.6" rx="7" ry="4.6"/><path class="p" d="M1438 388.6Q1445 392.6 1452 388.6"/>
<ellipse class="p" style="stroke:#444;stroke-width:1.4" cx="1445" cy="485" rx="9.7" ry="8"/><ellipse class="p" cx="1445" cy="483.8" rx="7" ry="4.6"/><path class="p" d="M1438 487.8Q1445 491.8 1452 487.8"/>
<!-- bore -->
<ellipse class="p" style="stroke:#444;stroke-width:1.5" cx="1381.7" cy="434" rx="64" ry="51"/>
<path class="p" d="M1323 455Q1333 480 1362 484.6Q1392 488 1420 474Q1438 463 1443 446"/>
<path class="p" d="M1343 392.6Q1362 386.4 1383 386Q1404 386.4 1420 392.6M1355 391Q1382 397.6 1410 391"/>
<!-- intake port -->
<path class="p" d="M1260 400Q1262 394.6 1266.7 393.3H1291.7Q1303 396 1308.3 403.3Q1310.6 410 1310 416.7L1303.3 436.7L1308.3 450Q1309 462 1305 470Q1298 478 1286.7 480Q1275 480 1266.7 476.7Q1260 470 1258.3 460L1260 433.3Z"/>
<path class="p" d="M1266.7 398.3L1263.3 431.7M1303.3 400L1304.2 431.7M1260 431.7Q1268 438.6 1282 438.6Q1296 438.6 1304.2 431.7M1262 433.6Q1270 428.6 1282 428.6Q1296 428.6 1303.4 433"/>
<path class="p" d="M1266 436.6Q1274 441.4 1284 441.4Q1294 441 1300 437"/>
<!-- vertical slot -->
<path class="p" d="M1195 342Q1195.6 333.6 1203.3 333.3Q1210 334 1213 342L1215.8 350V437Q1215 446 1207 446.7Q1199 446 1196 436Z"/>
<path class="p" d="M1197.6 343Q1198.4 336.6 1203.6 336.4Q1208.6 337 1211 344L1213.4 351V436Q1212.6 443.6 1207 444Q1201 443.4 1198.6 435Z"/>
<path class="d" style="stroke-width:1.3" d="M1215 350V438"/>
<!-- oil drain boss -->
<path class="p" d="M1143.3 375.6L1144.4 388M1152.2 374.4L1155.6 380L1167.8 377.8M1147 370.6L1168.9 368.3L1175.6 372.2Q1178 380 1178.9 387.8L1180 404.4L1177.8 412.2L1173.3 408.9"/>
<path class="pf" d="M1136.7 393.3L1155.6 381.1L1167.8 377.8L1171.1 407.8L1151.1 415.6Z"/>
<ellipse class="pf" style="stroke:#333;stroke-width:1.9" cx="1143" cy="405.6" rx="6.8" ry="11.2" transform="rotate(-24 1143 405.6)"/>
<ellipse class="p" style="stroke:#333;stroke-width:1.5" cx="1144.2" cy="405.8" rx="4.4" ry="8.4" transform="rotate(-24 1144.2 405.8)"/>
<path class="p" d="M1141.6 396Q1138.4 403 1142.4 414"/>
<!-- curved pipe -->
<path class="p" d="M1162.2 414.4Q1166 424 1173.3 433.3Q1180 441 1187.8 446.7Q1198 452.6 1210 457.8L1232.2 465.6"/>
<path class="p" d="M1168.9 416.7Q1173 426 1180 434.4Q1186 440.6 1193.3 445.6Q1203 451 1213.3 455.6L1231.1 462.2"/>
<path class="p" d="M1151.1 415.6L1160 424.4Q1164 434 1171.1 442.2L1180 452.2L1183.3 447.8M1180 454.4L1181.1 462.2L1206.7 476.7L1207.8 467.8L1212.2 466.7V475.6M1181.1 453.3L1207.8 467.8"/>
<path class="p" d="M1213.3 467.8L1224.4 471.1L1226.7 477.8L1227.8 486.7Q1231 492 1236.7 494.4H1248.9Q1255 491.6 1260 487.8H1265.6"/>
<!-- small dark plug -->
<path class="p" d="M1222.2 437.8Q1227 434 1232.2 433.3Q1238 433.6 1242.2 435.6Q1246 438 1246.7 442.2Q1246 446 1242.2 448.9L1233.3 455.6"/>
<ellipse class="pf" style="stroke:#222;stroke-width:2.8" cx="1225" cy="447.4" rx="5" ry="8.2" transform="rotate(-25 1225 447.4)"/>
<ellipse class="p" style="stroke:#444;stroke-width:1.5" cx="1225.2" cy="447.6" rx="2.2" ry="4.8" transform="rotate(-25 1225.2 447.6)"/>
<ellipse class="p" cx="1243.3" cy="461.1" rx="5.4" ry="3"/>
<path class="p" d="M1232.2 455.6V471.1Q1234 476 1237.8 477.8L1243.3 476.7L1248.9 468.9M1229 479.6L1232.2 482.2L1244.4 483.3L1255.6 477.8M1245 478L1247.6 470"/>
<path class="d" style="stroke-width:1.8" d="M1233.3 466.7L1251.1 467.8"/>
<path class="p" d="M1248.9 404V467.6"/>
<!-- right arm -->
<path class="p" d="M1489.2 366.7V408.3M1486.7 423.3L1556.7 393.3Q1566 389.6 1568.3 386.7V378.3L1630 353.3Q1635.6 350.6 1635.8 348.3V336.7L1633.3 333.3"/>
<path class="p" d="M1491.7 400L1535.8 380M1491.7 409.2L1543.3 385L1560 383.3L1566 380"/>
<path class="p" d="M1491.7 400V409.2"/>
<!-- boss on arm -->
<path class="pf" d="M1535.8 378.3L1536.7 366.7L1545 353.3L1555.8 350L1559.2 356.7L1563.3 361.7L1565 375Q1562 379.6 1555 381.7Q1545 382.6 1535.8 378.3Z"/>
<ellipse class="p" cx="1551.7" cy="364.2" rx="10.8" ry="6.7"/>
<ellipse class="p" cx="1551.7" cy="364.4" rx="6" ry="3.4"/><ellipse class="p" cx="1551.7" cy="364.6" rx="3.6" ry="2"/>
<path class="p" d="M1538 372Q1544 378.6 1555 378Q1562 376.6 1564.4 371M1545 353.3Q1550 354.6 1553.3 352.6L1555 356"/>
<!-- link -->
<path class="p" d="M1563.3 359.2L1582.5 349.2M1565 364.2L1588.3 352.5M1582.5 348.3L1584.2 340.8L1590 340L1592.5 344.2L1588.3 352.5"/>
<!-- block -->
<path class="pf" d="M1585.8 327.5L1605 314.2L1621.7 325V338.3L1607.5 350L1586.7 341.7Z"/>
<path class="p" d="M1585.8 327.5L1607.5 337.5L1621.7 325M1607.5 337.5V350M1589 328L1605 317.2L1618 325.4L1607.5 334.6Z"/>
<!-- ear -->
<path class="p" d="M1613.3 311.7L1630 320Q1633 326 1633.3 333.3M1611 316L1616 320.6L1626 326V330.6M1621.7 331.6L1633 336"/>
<ellipse class="p" cx="1620" cy="321.7" rx="4.2" ry="2.5"/>
<path class="p" d="M1613.6 313V300"/>
<!-- centre lines (dash-dot) -->
<path class="p" style="stroke-dasharray:40 9 7.5 9;stroke-dashoffset:16" d="M1286.1 243.4H1655.3"/>
<path class="p" style="stroke-dasharray:22 5 6 5" d="M1339 262H1436"/>
</g>
<g id="seal">
<path class="d" d="M1346.9 26V30C1350 58 1412 58 1415.2 30V26"/>
<ellipse class="pf" style="stroke:#2a2a2a;stroke-width:1.8" cx="1381" cy="25.3" rx="34.2" ry="21.3"/>
<ellipse class="d" style="stroke-width:2.2" cx="1381" cy="22.3" rx="25.6" ry="15.5"/>
<ellipse class="p" style="stroke:#444" cx="1381" cy="23.6" rx="22" ry="12.8"/>
<path class="p" d="M1358 19C1365 8 1397 8 1404 19"/>
<path class="p" style="stroke:#777;stroke-width:2.2" d="M1377 9.4H1386"/>
<path class="p" d="M1360 30C1366 41 1396 41 1402 30"/>
</g>
<g id="tabs">
<!-- bolt -->
<path style="fill:#c8c8c8;stroke:#3a3a3a;stroke-width:1.5;stroke-linejoin:round" d="M1652.2 85Q1655.6 82.6 1659.2 85V106.5L1662.2 110V116L1659.2 119V127.5Q1655.6 130.5 1652.2 127.5V119L1649 116V110L1652.2 106.5Z"/>
<path class="p" style="stroke:#555;stroke-width:2" d="M1655.7 86V106M1655.7 120V128"/>
<path class="d" style="stroke-width:1.2" d="M1649 113H1662.2M1652.2 88H1659M1652.2 92H1659M1652.2 96H1659M1652.2 100H1659M1652.2 104H1659M1652.2 123H1659"/>
<!-- tab 5 -->
<path class="pf" d="M1624.4 138.2Q1623.6 138 1623.6 139.5V148.5Q1623.6 150.4 1625 150.8L1646.7 157.2L1660 157.2Q1666.7 156 1666.7 150V146Q1666.5 140.2 1660 140L1649 140.4Q1646.6 140.6 1645.5 142.6Z"/>
<path class="p" d="M1645.5 142.6Q1644.6 146 1645.4 153.4L1646.7 157.2M1646.7 154.4L1659.6 154.2Q1665.5 153.4 1666.6 148"/>
<ellipse class="p" style="stroke:#555;stroke-width:1.6" cx="1655.3" cy="148" rx="4.6" ry="2.8"/>
<!-- tab 6 -->
<path class="pf" d="M1624 178.4Q1617 178.8 1617 184.6Q1617 190.6 1624 190.8L1645.6 190.6L1649 192L1660 191.8Q1666.6 190.6 1666.6 185V183Q1666.4 177.6 1660 177.2L1648.4 177.4L1645.6 178.4Z"/>
<path class="p" d="M1645.6 178.4Q1646.4 184 1645.6 190.6"/>
<ellipse class="p" cx="1655.3" cy="184.4" rx="4.6" ry="3"/>
<!-- dash-dot centre line -->
<path class="p" d="M1655.3 195V236.4"/>
</g>
<g id="plug">
<path class="d" style="stroke-width:1.7" d="M1436 548V536Q1436 527.6 1445 527.6Q1454 527.6 1454 536V548"/>
<ellipse class="d" style="stroke-width:1.7" cx="1445" cy="547.4" rx="9" ry="7.8"/>
<ellipse class="p" style="stroke:#777" cx="1445" cy="547.6" rx="5.6" ry="4.8"/>
<ellipse class="p" style="stroke:#999" cx="1445" cy="547.6" rx="3.6" ry="3"/>
</g>
<g id="rings">
<ellipse class="p" style="stroke:#484848;stroke-width:1.5" cx="1380.6" cy="674.5" rx="61.2" ry="50.2"/>
<ellipse class="p" style="stroke:#555;stroke-width:1.4" cx="1380.6" cy="674.5" rx="58.6" ry="47.6"/>
<path class="p" style="stroke:#999;stroke-width:2.2" d="M1370 625.6H1391M1371 723.4H1392M1320.6 668V682M1440.6 668V682"/>
<ellipse class="p" style="stroke:#444;stroke-width:1.5" cx="1380.6" cy="785.8" rx="61.2" ry="50.2"/>
<ellipse class="p" style="stroke:#444;stroke-width:1.5" cx="1380.6" cy="785.8" rx="58.4" ry="47.4"/>
<ellipse class="p" style="stroke:#999;stroke-width:1.2" cx="1380.6" cy="785.8" rx="59.8" ry="48.8"/>
<ellipse class="p" style="stroke:#484848;stroke-width:1.5" cx="1380.6" cy="898.8" rx="61.2" ry="50.2"/>
<ellipse class="p" style="stroke:#555;stroke-width:1.4" cx="1380.6" cy="898.8" rx="58.6" ry="47.6"/>
<path class="p" style="stroke:#999;stroke-width:2.2" d="M1371 849.8H1390M1320.6 892V906M1440.6 892V906"/><path class="d" style="stroke-width:1.6" d="M1376 947.6H1385"/>
<ellipse class="p" style="stroke:#4a4a4a;stroke-width:1.3" cx="1380.6" cy="1010.7" rx="61.3" ry="50.6"/>
<ellipse class="p" style="stroke:#4a4a4a;stroke-width:1.3" cx="1380.6" cy="1011.4" rx="56.8" ry="46.2"/>
<path class="p" d="M1380.6 960.2V965.2"/>
<ellipse class="p" style="stroke:#4a4a4a;stroke-width:1.3" cx="1380.6" cy="1123" rx="61.3" ry="51.2"/>
<ellipse class="p" style="stroke:#4a4a4a;stroke-width:1.3" cx="1380.6" cy="1123.6" rx="56.8" ry="46.4"/>
<path class="p" d="M1380.6 1071.8V1077.2"/>
</g>
<g id="piston">
<!-- wrist pin -->
<path class="pf" d="M1365.9 1215.3V1270Q1366.5 1277.8 1380.5 1278Q1394.5 1277.8 1395.1 1270V1215.3"/>
<ellipse class="pf" cx="1380.5" cy="1215.3" rx="14.6" ry="8.8"/>
<ellipse class="p" cx="1380.5" cy="1215.3" rx="9.6" ry="5.4"/>
<ellipse class="p" cx="1380.5" cy="1215.6" rx="7" ry="3.6"/>
<!-- piston body -->
<path class="p" d="M1319.3 1362V1322Q1320.5 1303 1334 1297.3L1372 1294.8H1428Q1441.5 1303 1441.8 1322V1362"/>
<path class="p" d="M1334 1297.3L1376 1293.6H1409L1427.6 1294.8"/>
<path class="p" d="M1331.7 1298.5V1321L1326 1335M1336.7 1297.4V1319L1331 1331M1423.4 1295V1316L1427.5 1326M1429.2 1296V1318L1433 1328"/>
<path class="p" d="M1339 1302L1423 1296.2M1339 1302.3V1299.6M1337 1318Q1345 1308 1356 1307.5Q1362 1301 1372 1300H1392Q1401 1301 1405 1307.5Q1416 1308 1424 1317"/>
<path class="p" style="stroke:#777;stroke-width:2.6" d="M1357 1306.5Q1364 1301.6 1374 1301.6H1390Q1399 1302 1404 1306.5"/>
<path class="d" style="stroke-width:1.6" d="M1377 1295H1408"/>
<path class="p" style="stroke:#666;stroke-width:2.6" d="M1345 1311L1351 1309M1410 1309L1416 1311.5"/>
<!-- ring grooves (concentric arcs above face) -->
<path class="d" style="stroke-width:1.4" d="M1319.3 1360.4A61.2 52.2 0 0 1 1441.7 1360.4"/>
<path class="d" style="stroke-width:1.3" d="M1319.3 1358.0A61.2 52.2 0 0 1 1441.7 1358.0"/>
<path class="p" style="stroke:#444;stroke-width:1.3" d="M1319.3 1355.6A61.2 52.2 0 0 1 1441.7 1355.6"/>
<path class="p" d="M1319.3 1353.2A61.2 52.2 0 0 1 1441.7 1353.2"/>
<path class="d" style="stroke-width:2.4" d="M1320 1352C1321 1341 1324.5 1332 1330 1324M1441.2 1352C1440 1341 1436.5 1332 1431 1324"/>
<!-- face -->
<ellipse class="pf" style="stroke:#444;stroke-width:1.3" cx="1380.5" cy="1362.8" rx="61.2" ry="52.2"/>
<!-- o-ring 8 -->
<ellipse class="p" style="stroke:#444;stroke-width:1.8" cx="1380.5" cy="1441.2" rx="14.4" ry="9.2"/>
</g>
<g id="conrod">
<!-- big end cap outline -->
<path class="p" d="M1712 1162L1718 1161.6Q1722 1160 1727 1161.6L1729.5 1165.3L1760 1169.3Q1772 1171 1785.3 1176.7Q1789 1174.6 1794 1176Q1798.6 1180 1799.3 1185.3V1193L1786.7 1198.7"/>
<path class="p" d="M1712 1162L1699.3 1178.7L1691.3 1197.3L1687.5 1210Q1686.6 1214 1689 1218L1691.3 1224L1706.7 1226.7Q1716 1229 1721.3 1234.7L1723.3 1238V1279"/>
<path class="p" d="M1699.3 1178.7L1704 1183.4Q1715 1183.5 1717.6 1186.5M1702.5 1176L1712.5 1163.5"/>
<path class="p" d="M1691.3 1197.3L1708 1204Q1719 1210 1722.5 1222L1723.3 1238"/>
<!-- bearing -->
<ellipse class="p" cx="1741.3" cy="1189.3" rx="24.6" ry="13.4"/>
<path class="p" d="M1705.3 1185.3Q1708 1202 1741.3 1209.5Q1766 1209 1774.7 1197.3"/>
<path class="p" d="M1709.5 1184.6Q1713 1199 1741.3 1205.5Q1762 1205 1770 1196.5L1774.7 1197.3"/>
<path class="p" d="M1716.8 1186.5Q1716.2 1191 1719 1195M1766 1194Q1768 1191 1770 1196.5"/>
<path class="p" d="M1733 1203.6Q1741 1200.8 1750 1203.2"/>
<!-- right side of big end -->
<path class="p" d="M1786.7 1198.7L1772 1220L1760 1236L1759.3 1253.3V1279"/>
<path class="p" d="M1786.7 1198.7L1788.2 1208L1786.7 1220L1768 1246.7L1760 1254.5"/>
<path class="p" d="M1799 1193L1797.8 1203L1786.7 1220M1785.3 1176.7L1776 1192L1774.7 1197.3M1794.7 1177L1783 1196.6"/>
<!-- bolt hole -->
<ellipse class="p" cx="1695.6" cy="1214.6" rx="3.6" ry="4.2"/>
<path class="p" d="M1688.6 1210.6Q1691 1207.6 1694.6 1210.2M1689.5 1219.4L1693.5 1218.6"/>
<!-- shank slot -->
<path class="p" d="M1729.6 1270V1222Q1730 1212 1740.6 1211Q1751.6 1212 1752 1222V1270"/>
<path class="p" d="M1734.8 1271V1224Q1735 1217.4 1740.5 1217Q1746 1217.4 1746.2 1224V1271"/>
<path class="p" d="M1732 1268V1223Q1732.6 1214.4 1740.6 1214"/>
<!-- small end -->
<path class="p" d="M1721 1287V1305Q1722 1315 1740.3 1317.6Q1759 1315 1760 1305V1287"/>
<path class="p" d="M1722 1296Q1724 1308.5 1740.3 1310.5Q1757 1308.5 1759 1296"/>
<ellipse class="pf" cx="1740.3" cy="1288" rx="19.4" ry="14.4"/>
<ellipse class="p" style="stroke:#444;stroke-width:1.4" cx="1740.3" cy="1288.6" rx="14.4" ry="10.4"/>
<ellipse class="p" cx="1740.3" cy="1289.6" rx="11.4" ry="8"/>
<path class="p" d="M1730 1294Q1740 1288.5 1751 1294.4M1735 1305.5V1310M1745.4 1305.5V1310M1735 1305.5H1745.4"/>
</g>
<g id="cam">
<path d="M837.2 1001.0L837.5 997.0L838.4 993.1L839.8 989.2L841.8 985.4L844.4 981.6L847.5 978.0L851.2 974.6L855.3 971.3L859.9 968.1L865.0 965.2L870.4 962.5L876.3 960.1L882.5 957.9L889.0 955.9L895.7 954.3L902.7 952.9L909.9 951.8L917.2 951.0L924.6 950.6L932.0 950.4L939.4 950.6L946.8 951.0L954.1 951.8L961.3 952.9L968.3 954.3L975.0 955.9L981.5 957.9L987.7 960.1L993.6 962.5L999.0 965.2L1004.1 968.1L1008.7 971.3L1012.8 974.6L1016.5 978.0L1019.6 981.6L1022.2 985.4L1024.2 989.2L1025.6 993.1L1026.5 997.0L1026.8 1001.0L1026.8 1018.5L1026.5 1022.5L1025.6 1026.4L1024.2 1030.3L1022.2 1034.1L1019.6 1037.9L1016.5 1041.5L1012.8 1044.9L1008.7 1048.2L1004.1 1051.4L999.0 1054.3L993.6 1057.0L987.7 1059.4L981.5 1061.6L975.0 1063.6L968.3 1065.2L961.3 1066.6L954.1 1067.7L946.8 1068.5L939.4 1068.9L932.0 1069.1L924.6 1068.9L917.2 1068.5L909.9 1067.7L902.7 1066.6L895.7 1065.2L889.0 1063.6L882.5 1061.6L876.3 1059.4L870.4 1057.0L865.0 1054.3L859.9 1051.4L855.3 1048.2L851.2 1044.9L847.5 1041.5L844.4 1037.9L841.8 1034.1L839.8 1030.3L838.4 1026.4L837.5 1022.5L837.2 1018.5Z" fill="#fff" stroke="none"/>
<path class="p" style="stroke:#4a4a4a;stroke-width:1.25" d="M1026.8 1002.3L1026.7 1019.8M1026.7 1003.4L1026.6 1020.8M1026.2 1006.7L1025.9 1024.0M1025.9 1007.8L1025.6 1025.1M1022.3 1005.1L1022.1 1022.5M1024.9 1011.1L1024.5 1028.2M1024.5 1012.2L1024.0 1029.3M1021.2 1009.3L1020.9 1026.5M1022.9 1015.4L1022.4 1032.4M1022.3 1016.4L1021.8 1033.4M1019.5 1013.3L1019.0 1030.4M1020.2 1019.5L1019.7 1036.4M1019.4 1020.6L1018.9 1037.4M1017.1 1017.3L1016.6 1034.2M1016.8 1023.6L1016.3 1040.4M1015.9 1024.6L1015.4 1041.3M1014.1 1021.1L1013.6 1038.0M1012.8 1027.4L1012.4 1044.1M1011.7 1028.4L1011.3 1045.1M1010.5 1024.8L1009.9 1041.6M1008.2 1031.1L1007.8 1047.7M1007.0 1032.0L1006.6 1048.6M1006.2 1028.3L1005.8 1045.0M1003.0 1034.5L1002.7 1051.1M1001.6 1035.3L1001.4 1052.0M1001.4 1031.6L1001.0 1048.3M997.3 1037.7L997.1 1054.3M995.7 1038.5L995.6 1055.1M996.1 1034.7L995.8 1051.3M991.0 1040.6L991.0 1057.2M989.4 1041.3L989.4 1057.9M990.2 1037.5L990.1 1054.1M984.3 1043.2L984.4 1059.9M982.6 1043.8L982.7 1060.5M984.0 1040.0L983.9 1056.7M977.2 1045.5L977.5 1062.2M975.4 1046.0L975.7 1062.7M977.3 1042.2L977.4 1059.0M969.8 1047.4L970.2 1064.2M967.9 1047.8L968.3 1064.7M970.3 1044.1L970.5 1061.0M962.1 1049.0L962.6 1065.9M960.1 1049.3L960.6 1066.3M963.0 1045.7L963.3 1062.7M954.1 1050.2L954.7 1067.3M952.1 1050.4L952.7 1067.6M955.4 1047.0L955.9 1064.0M946.0 1051.0L946.7 1068.3M944.0 1051.2L944.6 1068.4M947.7 1047.9L948.2 1065.1M937.8 1051.5L938.5 1068.9M935.7 1051.6L936.4 1069.0M939.9 1048.4L940.4 1065.7M929.5 1051.6L930.2 1069.1M927.5 1051.5L928.2 1069.1M932.0 1048.6L932.6 1066.1M921.3 1051.3L922.0 1068.9M919.2 1051.1L919.9 1068.8M924.1 1048.4L924.7 1066.0M913.1 1050.6L913.7 1068.4M911.1 1050.4L911.7 1068.2M916.3 1047.9L916.8 1065.6M905.1 1049.5L905.6 1067.5M903.1 1049.2L903.6 1067.2M908.6 1047.0L909.0 1064.9M897.3 1048.1L897.7 1066.2M895.3 1047.7L895.8 1065.8M901.0 1045.7L901.4 1063.7M889.7 1046.3L890.1 1064.5M887.9 1045.8L888.2 1064.0M893.7 1044.1L894.0 1062.3M882.5 1044.1L882.7 1062.4M880.7 1043.6L880.9 1061.8M886.7 1042.2L886.8 1060.4M875.6 1041.7L875.7 1060.0M874.0 1041.0L874.0 1059.4M880.0 1040.0L880.1 1058.3M869.2 1038.9L869.1 1057.3M867.6 1038.2L867.6 1056.5M873.8 1037.5L873.7 1055.8M863.2 1035.8L863.0 1054.2M861.8 1035.0L861.6 1053.4M867.9 1034.7L867.7 1053.0M857.8 1032.5L857.5 1050.9M856.5 1031.6L856.2 1050.0M862.6 1031.6L862.3 1049.9M852.9 1028.9L852.5 1047.2M851.8 1028.0L851.4 1046.3M857.8 1028.3L857.4 1046.6M848.7 1025.1L848.2 1043.4M847.7 1024.2L847.2 1042.4M853.5 1024.8L853.0 1043.0M845.1 1021.2L844.6 1039.3M844.3 1020.2L843.8 1038.3M849.9 1021.1L849.4 1039.3M842.1 1017.1L841.6 1035.1M841.5 1016.0L841.0 1034.0M846.9 1017.3L846.4 1035.3M839.8 1012.8L839.4 1030.7M839.4 1011.7L839.0 1029.6M844.5 1013.3L844.0 1031.2M838.2 1008.5L837.9 1026.2M838.0 1007.4L837.7 1025.1M842.8 1009.3L842.4 1027.1M837.4 1004.1L837.2 1021.7M837.3 1003.0L837.2 1020.6M841.7 1005.1L841.5 1022.8"/>
<path class="p" style="stroke:#444;stroke-width:1.2" d="M1022.6 1001.0L1026.8 1002.3L1026.7 1003.4L1022.4 1004.5L1022.3 1005.1L1026.2 1006.7L1025.9 1007.8L1021.4 1008.7L1021.2 1009.3L1024.9 1011.1L1024.5 1012.2L1019.8 1012.7L1019.5 1013.3L1022.9 1015.4L1022.3 1016.4L1017.5 1016.7L1017.1 1017.3L1020.2 1019.5L1019.4 1020.6L1014.6 1020.6L1014.1 1021.1L1016.8 1023.6L1015.9 1024.6L1011.0 1024.3L1010.5 1024.8L1012.8 1027.4L1011.7 1028.4L1006.9 1027.8L1006.2 1028.3L1008.2 1031.1L1007.0 1032.0L1002.2 1031.1L1001.4 1031.6L1003.0 1034.5L1001.6 1035.3L996.9 1034.2L996.1 1034.7L997.3 1037.7L995.7 1038.5L991.1 1037.1L990.2 1037.5L991.0 1040.6L989.4 1041.3L984.9 1039.6L984.0 1040.0L984.3 1043.2L982.6 1043.8L978.3 1041.9L977.3 1042.2L977.2 1045.5L975.4 1046.0L971.4 1043.9L970.3 1044.1L969.8 1047.4L967.9 1047.8L964.1 1045.5L963.0 1045.7L962.1 1049.0L960.1 1049.3L956.6 1046.8L955.4 1047.0L954.1 1050.2L952.1 1050.4L948.9 1047.8L947.7 1047.9L946.0 1051.0L944.0 1051.2L941.1 1048.4L939.9 1048.4L937.8 1051.5L935.7 1051.6L933.2 1048.6L932.0 1048.6L929.5 1051.6L927.5 1051.5L925.3 1048.5L924.1 1048.4L921.3 1051.3L919.2 1051.1L917.4 1048.0L916.3 1047.9L913.1 1050.6L911.1 1050.4L909.7 1047.1L908.6 1047.0L905.1 1049.5L903.1 1049.2L902.1 1045.9L901.0 1045.7L897.3 1048.1L895.3 1047.7L894.8 1044.4L893.7 1044.1L889.7 1046.3L887.9 1045.8L887.7 1042.5L886.7 1042.2L882.5 1044.1L880.7 1043.6L881.0 1040.3L880.0 1040.0L875.6 1041.7L874.0 1041.0L874.7 1037.9L873.8 1037.5L869.2 1038.9L867.6 1038.2L868.8 1035.1L867.9 1034.7L863.2 1035.8L861.8 1035.0L863.4 1032.1L862.6 1031.6L857.8 1032.5L856.5 1031.6L858.5 1028.8L857.8 1028.3L852.9 1028.9L851.8 1028.0L854.1 1025.3L853.5 1024.8L848.7 1025.1L847.7 1024.2L850.4 1021.7L849.9 1021.1L845.1 1021.2L844.3 1020.2L847.3 1017.9L846.9 1017.3L842.1 1017.1L841.5 1016.0L844.8 1013.9L844.5 1013.3L839.8 1012.8L839.4 1011.7L843.0 1009.9L842.8 1009.3L838.2 1008.5L838.0 1007.4L841.9 1005.8L841.7 1005.1L837.4 1004.1L837.3 1003.0L841.4 1001.6L841.4 1001.0L837.2 999.7L837.3 998.6L841.6 997.5L841.7 996.9L837.8 995.3L838.1 994.2L842.6 993.3L842.8 992.7L839.1 990.9L839.5 989.8L844.2 989.3L844.5 988.7L841.1 986.6L841.7 985.6L846.5 985.3L846.9 984.7L843.8 982.5L844.6 981.4L849.4 981.4L849.9 980.9L847.2 978.4L848.1 977.4L853.0 977.7L853.5 977.2L851.2 974.6L852.3 973.6L857.1 974.2L857.8 973.7L855.8 970.9L857.0 970.0L861.8 970.9L862.6 970.4L861.0 967.5L862.4 966.7L867.1 967.8L867.9 967.3L866.7 964.3L868.3 963.5L872.9 964.9L873.8 964.5L873.0 961.4L874.6 960.7L879.1 962.4L880.0 962.0L879.7 958.8L881.4 958.2L885.7 960.1L886.7 959.8L886.8 956.5L888.6 956.0L892.6 958.1L893.7 957.9L894.2 954.6L896.1 954.2L899.9 956.5L901.0 956.3L901.9 953.0L903.9 952.7L907.4 955.2L908.6 955.0L909.9 951.8L911.9 951.6L915.1 954.2L916.3 954.1L918.0 951.0L920.0 950.8L922.9 953.6L924.1 953.6L926.2 950.5L928.3 950.4L930.8 953.4L932.0 953.4L934.5 950.4L936.5 950.5L938.7 953.5L939.9 953.6L942.7 950.7L944.8 950.9L946.6 954.0L947.7 954.1L950.9 951.4L952.9 951.6L954.3 954.9L955.4 955.0L958.9 952.5L960.9 952.8L961.9 956.1L963.0 956.3L966.7 953.9L968.7 954.3L969.2 957.6L970.3 957.9L974.3 955.7L976.1 956.2L976.3 959.5L977.3 959.8L981.5 957.9L983.3 958.4L983.0 961.7L984.0 962.0L988.4 960.3L990.0 961.0L989.3 964.1L990.2 964.5L994.8 963.1L996.4 963.8L995.2 966.9L996.1 967.3L1000.8 966.2L1002.2 967.0L1000.6 969.9L1001.4 970.4L1006.2 969.5L1007.5 970.4L1005.5 973.2L1006.2 973.7L1011.1 973.1L1012.2 974.0L1009.9 976.7L1010.5 977.2L1015.3 976.9L1016.3 977.8L1013.6 980.3L1014.1 980.9L1018.9 980.8L1019.7 981.8L1016.7 984.1L1017.1 984.7L1021.9 984.9L1022.5 986.0L1019.2 988.1L1019.5 988.7L1024.2 989.2L1024.6 990.3L1021.0 992.1L1021.2 992.7L1025.8 993.5L1026.0 994.6L1022.1 996.2L1022.3 996.9L1026.6 997.9L1026.7 999.0L1022.6 1000.4Z"/>
<path class="p" style="stroke:#444;stroke-width:1.2" d="M1022.6 1017.5L1026.8 1018.8L1026.8 1019.9L1022.5 1021.1L1022.4 1021.7L1026.4 1023.2L1026.2 1024.3L1021.7 1025.2L1021.5 1025.8L1025.3 1027.6L1024.9 1028.7L1020.2 1029.3L1020.0 1029.9L1023.4 1031.9L1022.8 1033.0L1018.1 1033.3L1017.7 1033.9L1020.9 1036.1L1020.1 1037.1L1015.3 1037.2L1014.9 1037.7L1017.7 1040.2L1016.8 1041.2L1011.9 1040.9L1011.4 1041.5L1013.8 1044.1L1012.7 1045.0L1007.9 1044.5L1007.2 1045.0L1009.3 1047.8L1008.1 1048.7L1003.3 1047.9L1002.6 1048.4L1004.2 1051.3L1002.9 1052.1L998.1 1051.0L997.3 1051.5L998.6 1054.5L997.1 1055.3L992.5 1053.9L991.6 1054.3L992.5 1057.5L990.9 1058.2L986.4 1056.6L985.4 1056.9L985.9 1060.1L984.2 1060.7L979.9 1058.9L978.9 1059.2L978.9 1062.5L977.1 1063.0L973.0 1061.0L971.9 1061.2L971.5 1064.5L969.6 1064.9L965.8 1062.7L964.7 1062.9L963.9 1066.2L961.9 1066.5L958.3 1064.0L957.2 1064.2L956.0 1067.5L954.0 1067.7L950.7 1065.1L949.5 1065.2L947.9 1068.4L945.8 1068.6L942.9 1065.8L941.7 1065.8L939.7 1068.9L937.6 1069.0L935.0 1066.1L933.8 1066.1L931.4 1069.1L929.3 1069.1L927.1 1066.0L925.9 1066.0L923.2 1068.9L921.1 1068.8L919.2 1065.6L918.1 1065.5L915.0 1068.3L912.9 1068.1L911.5 1064.9L910.3 1064.7L906.9 1067.3L904.9 1067.0L903.8 1063.7L902.7 1063.5L899.0 1065.9L897.1 1065.5L896.4 1062.3L895.4 1062.0L891.4 1064.2L889.5 1063.7L889.3 1060.5L888.3 1060.2L884.1 1062.2L882.3 1061.6L882.5 1058.4L881.5 1058.0L877.1 1059.8L875.5 1059.1L876.1 1056.0L875.2 1055.6L870.6 1057.1L869.1 1056.3L870.1 1053.3L869.2 1052.8L864.6 1054.1L863.1 1053.3L864.6 1050.3L863.8 1049.8L859.0 1050.8L857.7 1049.9L859.5 1047.1L858.8 1046.6L854.0 1047.3L852.9 1046.4L855.1 1043.7L854.5 1043.1L849.6 1043.5L848.6 1042.6L851.2 1040.0L850.7 1039.5L845.8 1039.6L845.0 1038.6L847.9 1036.3L847.5 1035.7L842.7 1035.5L842.0 1034.5L845.3 1032.3L845.0 1031.7L840.3 1031.3L839.8 1030.2L843.3 1028.3L843.1 1027.7L838.5 1027.0L838.2 1025.9L842.1 1024.2L841.9 1023.6L837.5 1022.6L837.4 1021.5L841.4 1020.1L841.4 1019.5L837.2 1018.2L837.2 1017.1"/>
<path class="d" style="stroke-width:2" d="M1026.8 995.0V1014.5"/>
<path class="p" d="M837.2 1001.0V1015.5"/>
<ellipse class="p" style="stroke:#444;stroke-width:1.3" cx="931.7" cy="1001.8" rx="75" ry="43.8"/>
<ellipse class="p" style="stroke:#444;stroke-width:1.3" cx="931.7" cy="1000.4" rx="70.2" ry="40.4"/>
<path class="d" style="stroke-width:1.7" d="M868 1021C885 1048 978 1048 996 1021"/>
<ellipse class="p" cx="931.7" cy="1001.4" rx="32.6" ry="16.4"/>
<path class="p" d="M928 1017.6L932.5 1018.6L937 1017.4"/>
<ellipse class="p" cx="891.4" cy="1012.5" rx="4" ry="2.5"/><!-- lower journal -->
<path class="pf" d="M906.2 982V998Q908 1010.5 931.5 1011.5Q955 1010.5 957 998V982Z"/>
<path class="p" style="stroke:#666;stroke-width:2.4" d="M908 994Q912 1003 931.5 1004Q951 1003 955.5 994"/>
<path class="d" style="stroke-width:1.4" d="M907 990Q911 999.5 931.5 1000.5Q952 999.5 956.5 990"/>
<path class="p" d="M909.5 1002Q914 1007.5 931.5 1008Q949 1007.5 954 1002"/>
<path class="d" style="stroke-width:2" d="M906.4 983V996M956.8 980V994"/>
<!-- main shaft body -->
<path class="pf" d="M908 871.5V958L902.6 964.5V979Q906 987 931.5 988Q951 987 954 979.6V871.5Z"/>
<path class="p" d="M902.6 979Q906 987.5 931.5 988.5Q951 987.5 954 979.6"/>
<path class="p" d="M904.5 985Q910 991 931.5 991.6Q950 991 955 986"/>
<!-- big lobe top -->
<path class="p" d="M902.6 964.5Q905 972.4 926 971.4Q946 969.4 954 960.6"/>
<path class="p" d="M906 961Q909 968.4 926 967.4Q944 965.4 953.5 956.4"/>
<path class="d" style="stroke-width:2" d="M912.5 966.6Q930 966.6 952.6 957.6"/>
<!-- diagonal lobe -->
<path class="p" d="M909.5 938Q912 945 925 946Q942 944 953.6 933.6M909 948Q913 954.4 926 953.6Q943 951 953.6 941"/>
<path class="p" d="M914 945Q930 944 953.4 926"/>
<path class="d" style="stroke-width:1.8" d="M908.4 940V957"/>
<!-- mid lobes -->
<path class="p" d="M908 915Q912 926.5 931.5 927.5Q950 926.5 953.8 917.5"/>
<path class="p" d="M911 930Q916 938 931.5 938.6Q948 938 953.6 929M912.5 933.6Q918 927.4 931.5 927.6"/>
<path class="p" d="M908.4 921Q912 930.5 931.5 931.6Q950 930.5 953.8 923"/>
<path class="p" d="M909.5 900Q914 908.5 931.5 909.2Q949 908.5 953 902"/>
<path class="d" style="stroke-width:1.6" d="M910 901Q915 910.6 931.5 911.2Q948 910.6 952.6 903.5"/>
<path class="p" d="M909.6 906Q914 915.4 931.5 916.2Q950 915.4 953.6 908.6"/>
<path class="p" d="M911.4 929L909.4 918M953.8 917V931"/>
<!-- first lobe -->
<path class="p" d="M908 890Q912 897 931.5 898Q950 897 953.9 888.6"/>
<path class="p" d="M908 879Q912 886.4 931.5 887.4Q950 886.4 953.9 879"/>
<path class="p" d="M911.6 881.4Q916 889.6 931.5 890.6Q948 889.6 952.4 882.4"/>
<!-- collar -->
<path class="pf" d="M910.4 866Q906.6 869 908 871.5Q912 881.5 931.5 882.5Q951 881.5 953.9 873V866Z"/>
<path class="d" style="stroke-width:2.2" d="M911 871Q915 880.6 931.5 881.4Q949 880.6 953 871.6"/>
<path class="d" style="stroke-width:1.6" d="M911 866Q910.4 862 913.6 860.6M953.4 866Q954 862 950 860.6"/>
<path class="p" style="stroke:#777;stroke-width:2" d="M916 875.5Q922 878.4 931.5 878.6Q942 878.4 947.6 875.5"/>
<!-- cap -->
<path class="pf" d="M915.7 852.6V864Q917 873.4 931.7 874Q946.4 873.4 947.7 864V852.6Z"/>
<path class="p" d="M917 868Q921 872 931.7 872.4Q942 872 946.4 868"/>
<ellipse class="pf" cx="931.7" cy="852.6" rx="16" ry="9.4"/>
<ellipse class="p" cx="931.7" cy="853.4" rx="6.3" ry="3.6"/>
<ellipse class="p" cx="931.7" cy="853.4" rx="4.4" ry="2.4"/>
<ellipse class="p" cx="931.7" cy="853.6" rx="1.6" ry="1"/>
<path class="p" d="M917.4 858Q921 864.6 931.7 865Q942 864.6 946 858"/>
<!-- washer 21 -->
<ellipse class="p" cx="932" cy="1134.7" rx="31.6" ry="19.4"/>
<ellipse class="p" style="stroke:#444;stroke-width:1.4" cx="931.8" cy="1134.7" rx="15.8" ry="9.6"/>
</g>
<g id="labels">
<text class="n" id="t1" x="700.0" y="720.2" dx="1.6">1</text>
<text class="n" id="t2" x="216.9" y="1092.8">2</text>
<text class="n" id="t3" x="99.2" y="1085.0">3</text>
<text class="n" id="t4" x="1569.5" y="79.6">4</text>
<text class="n" id="t5" x="1742.7" y="154.4">5</text>
<text class="n" id="t6" x="1740.7" y="216.0">6</text>
<text class="n" id="t7" x="1589.3" y="1252.0">7</text>
<text class="n" id="t8" x="1275.7" y="1456.0">8</text>
<text class="n" id="t9" x="812.1" y="880.8">9</text>
<text class="n" id="t10" x="953.4" y="630.0" letter-spacing="1.6" dx="1.6 -1.6">10</text>
<text class="n" id="t11" x="903.4" y="657.0" letter-spacing="1.6" dx="1.6 0">11</text>
<text class="n" id="t12" x="825.7" y="472.0" letter-spacing="1.6" dx="1.6 -1.6">12</text>
<text class="n" id="t13" x="881.9" y="443.6" letter-spacing="1.6" dx="1.6 -1.6">13</text>
<text class="n" id="t14" x="1545.1" y="1010.6" letter-spacing="1.6" dx="1.6 -1.6">14</text>
<text class="n" id="t15" x="1546.0" y="1052.0" letter-spacing="1.6" dx="1.6 -1.6">15</text>
<text class="n" id="t16" x="1546.0" y="1092.0" letter-spacing="1.6" dx="1.6 -1.6">16</text>
<text class="n" id="t17" x="1180.3" y="884.4" letter-spacing="1.6" dx="1.6 -1.6">17</text>
<text class="n" id="t18" x="1180.0" y="923.6" letter-spacing="1.6" dx="1.6 -1.6">18</text>
<text class="n" id="t19" x="1180.3" y="960.4" letter-spacing="1.6" dx="1.6 -1.6">19</text>
<text class="n" id="t20" x="979.0" y="400.6" letter-spacing="1.6">20</text>
<text class="n" id="t21" x="780.9" y="1146.4" letter-spacing="1.6" dx="0 1.6">21</text>
<text class="n" id="t22" x="779.0" y="1188.0" letter-spacing="1.6">22</text>
<text class="n" id="t23" x="779.4" y="1228.6" letter-spacing="1.6">23</text>
<text class="n" id="t24" x="778.9" y="1270.4" letter-spacing="1.6">24</text>
<text class="n" id="t25" x="779.4" y="1310.4" letter-spacing="1.6">25</text>
<text class="n" id="t26" x="779.4" y="1350.4" letter-spacing="1.6">26</text>
<text class="n" id="t27" x="779.9" y="1388.0" letter-spacing="1.6">27</text>
<text class="n" id="t28" x="1528.0" y="568.8" letter-spacing="1.6">28</text>
<text class="n" id="t29" x="1229.3" y="35.6" letter-spacing="1.6">29</text>
<text class="n" id="t30" x="486.5" y="736.4" letter-spacing="1.6">30</text>
<text class="n" id="t31" x="202.3" y="713.6" letter-spacing="1.6" dx="0 1.6">31</text>
</g>
<g id="labelmask">
<rect x="703.34" y="716.21" width="6.86" height="5.69" fill="#fdfdfd"/>
<rect x="714.28" y="716.21" width="7.63" height="5.69" fill="#fdfdfd"/>
<rect x="956.74" y="626.01" width="6.86" height="5.69" fill="#fdfdfd"/>
<rect x="967.68" y="626.01" width="7.63" height="5.69" fill="#fdfdfd"/>
<rect x="906.74" y="653.01" width="6.86" height="5.69" fill="#fdfdfd"/>
<rect x="917.68" y="653.01" width="7.63" height="5.69" fill="#fdfdfd"/>
<rect x="925.70" y="653.01" width="6.86" height="5.69" fill="#fdfdfd"/>
<rect x="936.64" y="653.01" width="7.63" height="5.69" fill="#fdfdfd"/>
<rect x="829.04" y="468.01" width="6.86" height="5.69" fill="#fdfdfd"/>
<rect x="839.98" y="468.01" width="7.63" height="5.69" fill="#fdfdfd"/>
<rect x="885.24" y="439.61" width="6.86" height="5.69" fill="#fdfdfd"/>
<rect x="896.18" y="439.61" width="7.63" height="5.69" fill="#fdfdfd"/>
<rect x="1548.44" y="1006.61" width="6.86" height="5.69" fill="#fdfdfd"/>
<rect x="1559.38" y="1006.61" width="7.63" height="5.69" fill="#fdfdfd"/>
<rect x="1549.34" y="1048.01" width="6.86" height="5.69" fill="#fdfdfd"/>
<rect x="1560.28" y="1048.01" width="7.63" height="5.69" fill="#fdfdfd"/>
<rect x="1549.34" y="1088.01" width="6.86" height="5.69" fill="#fdfdfd"/>
<rect x="1560.28" y="1088.01" width="7.63" height="5.69" fill="#fdfdfd"/>
<rect x="1183.64" y="880.41" width="6.86" height="5.69" fill="#fdfdfd"/>
<rect x="1194.58" y="880.41" width="7.63" height="5.69" fill="#fdfdfd"/>
<rect x="1183.34" y="919.61" width="6.86" height="5.69" fill="#fdfdfd"/>
<rect x="1194.28" y="919.61" width="7.63" height="5.69" fill="#fdfdfd"/>
<rect x="1183.64" y="956.41" width="6.86" height="5.69" fill="#fdfdfd"/>
<rect x="1194.58" y="956.41" width="7.63" height="5.69" fill="#fdfdfd"/>
<rect x="805.87" y="1142.41" width="6.86" height="5.69" fill="#fdfdfd"/>
<rect x="816.81" y="1142.41" width="7.63" height="5.69" fill="#fdfdfd"/>
<rect x="227.27" y="709.61" width="6.86" height="5.69" fill="#fdfdfd"/>
<rect x="238.21" y="709.61" width="7.63" height="5.69" fill="#fdfdfd"/>
</g>
<g id="logo">
<text x="1640" y="1456" style="font-family:'Liberation Serif','Times New Roman',serif;font-size:38px;letter-spacing:0.9px" id="logo"><tspan fill="#4a6db3">m</tspan><tspan fill="#4aa83a">o</tspan><tspan fill="#e661a6">t</tspan><tspan fill="#1e9e48">o</tspan><tspan fill="#e6521e">r</tspan><tspan fill="#ee961e">u</tspan><tspan fill="#f5cf1e">f</tspan></text>
<text x="1769.8" y="1456" id="logo2" style="font-family:'Liberation Serif','Times New Roman',serif;font-size:17px" fill="#33331f">.de</text>
<circle cx="1774" cy="1431" r="0.9" fill="#555"/>
</g>
</g>
</svg>
</body></html>
